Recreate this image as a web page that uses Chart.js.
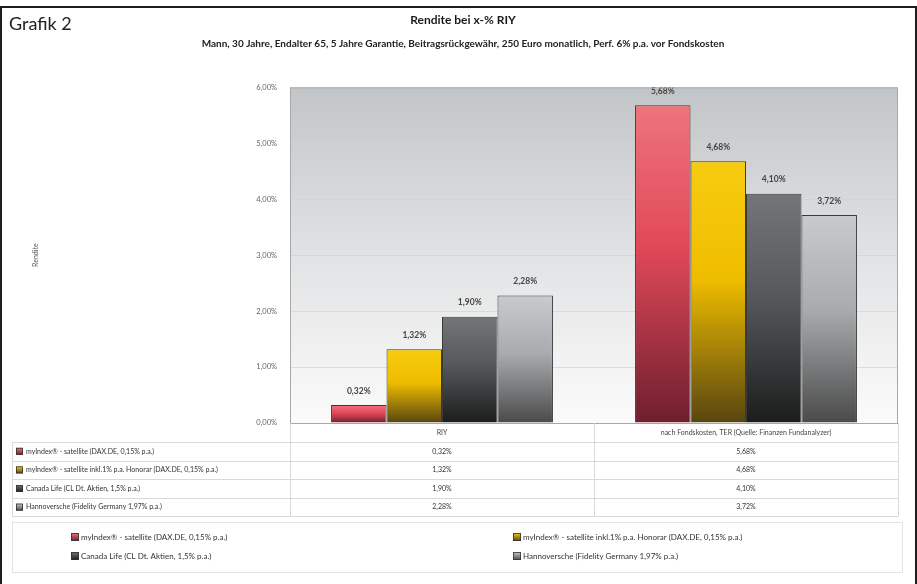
<!DOCTYPE html>
<html>
<head>
<meta charset="utf-8">
<script src="https://cdn.jsdelivr.net/npm/chart.js@4/dist/chart.umd.min.js"></script>
<style>
  html, body { margin: 0; padding: 0; background: #fff; }
  #wrap { position: relative; width: 917px; height: 584px; overflow: hidden; }
  #c { position: absolute; left: 0; top: 0; }
  #frame { position: absolute; left: 0; top: 6px; width: 913px; height: 620px; border: 2px solid #1e1e1e; pointer-events: none; }
  #grafik { position: absolute; left: 9px; top: 12px; font-family: Lato, "Open Sans", sans-serif; font-size: 18px; color: #222; }
</style>
</head>
<body>
<div id="wrap">
  <canvas id="c" width="917" height="584"></canvas>
  <div id="frame"></div>
  <div id="grafik">Grafik 2</div>
</div>
<script>
// ---- data ----
const categories = ['RIY', 'nach Fondskosten, TER (Quelle: Finanzen Fundanalyzer)'];
const seriesNames = [
  'myIndex\u00AE - satellite (DAX.DE, 0,15% p.a.)',
  'myIndex\u00AE - satellite inkl.1% p.a. Honorar (DAX.DE, 0,15% p.a.)',
  'Canada Life (CL Dt. Aktien, 1,5% p.a.)',
  'Hannoversche (Fidelity Germany 1,97% p.a.)'
];
const myIndex = [0.32, 5.68];
const myIndexHonorar = [1.32, 4.68];
const canadaLife = [1.90, 4.10];
const hannoversche = [2.28, 3.72];
const yTickValues = [0, 1, 2, 3, 4, 5, 6];
const titleText = 'Rendite bei x-% RIY';
const subtitleText = 'Mann, 30 Jahre, Endalter 65, 5 Jahre Garantie, Beitragsrückgewähr, 250 Euro monatlich, Perf. 6% p.a. vor Fondskosten';
const yTitle = 'Rendite';

// ---- styles ----
const FONT = 'Lato, "Open Sans", sans-serif';
const gradStops = [
  ['#ee747b', '#e04858', '#6e1f2e'],
  ['#f7cc10', '#efbd00', '#574510'],
  ['#727678', '#55595b', '#1c1c1c'],
  ['#c8cbcd', '#a9acae', '#4a4a4a']
];
const fmt = v => v.toFixed(2).replace('.', ',') + '%';

function barGradient(idx) {
  return function (c) {
    const s = gradStops[idx];
    if (c.type !== 'data' || !c.chart.chartArea) return s[1];
    const y = c.chart.scales.y;
    const top = y.getPixelForValue(c.raw);
    const bot = y.getPixelForValue(0);
    const g = c.chart.ctx.createLinearGradient(0, top, 0, bot);
    g.addColorStop(0, s[0]);
    g.addColorStop(0.45, s[1]);
    g.addColorStop(1, s[2]);
    return g;
  };
}

const seriesData = [myIndex, myIndexHonorar, canadaLife, hannoversche];

const bgPlugin = {
  id: 'bg',
  beforeDraw(chart) {
    const { ctx, chartArea: a } = chart;
    const g = ctx.createLinearGradient(0, a.top, 0, a.bottom);
    g.addColorStop(0, '#c2c5c7');
    g.addColorStop(0.55, '#e4e5e6');
    g.addColorStop(1, '#fbfbfb');
    ctx.save();
    ctx.fillStyle = g;
    ctx.fillRect(a.left, a.top, a.right - a.left, a.bottom - a.top);
    ctx.restore();
  },
  afterDraw(chart) {
    const { ctx, chartArea: a } = chart;
    ctx.save();
    ctx.strokeStyle = '#a8a8a8';
    ctx.lineWidth = 1;
    ctx.strokeRect(a.left + 0.5, a.top + 0.5, a.right - a.left - 1, a.bottom - a.top);
    ctx.restore();
  }
};

function drawKey(ctx, x, y, idx, size) {
  const s = gradStops[idx];
  const g = ctx.createLinearGradient(0, y - size / 2, 0, y + size / 2);
  g.addColorStop(0, s[0]);
  g.addColorStop(1, s[2]);
  ctx.fillStyle = g;
  ctx.fillRect(x, y - size / 2, size, size);
  ctx.strokeStyle = '#333';
  ctx.lineWidth = 0.8;
  ctx.strokeRect(x + 0.4, y - size / 2 + 0.4, size - 0.8, size - 0.8);
}

const labelPlugin = {
  id: 'labels',
  afterDatasetsDraw(chart) {
    const { ctx } = chart;
    ctx.save();
    ctx.font = 'bold 8.5px ' + FONT;
    ctx.fillStyle = '#444';
    ctx.textAlign = 'center';
    ctx.textBaseline = 'middle';
    chart.data.datasets.forEach((ds, i) => {
      const meta = chart.getDatasetMeta(i);
      meta.data.forEach((el, j) => {
        ctx.fillText(fmt(ds.data[j]), el.x, el.y - 14);
      });
    });
    ctx.restore();
  }
};

const tablePlugin = {
  id: 'table',
  afterDraw(chart) {
    const { ctx, chartArea: a } = chart;
    const xs = chart.scales.x;
    const left = 12, right = a.right;
    const rowH = 18.6;
    const headBottom = a.bottom + 19;
    const tableBottom = headBottom + rowH * 4;
    const mid = (xs.getPixelForValue(0) + xs.getPixelForValue(1)) / 2;
    ctx.save();
    ctx.strokeStyle = '#d9d9d9';
    ctx.lineWidth = 1;
    [a.left, mid, right].forEach(x => {
      ctx.beginPath();
      ctx.moveTo(Math.round(x) + 0.5, a.bottom);
      ctx.lineTo(Math.round(x) + 0.5, tableBottom);
      ctx.stroke();
    });
    for (let r = 0; r <= 4; r++) {
      const y = Math.round(headBottom + r * rowH) + 0.5;
      ctx.beginPath();
      ctx.moveTo(left, y);
      ctx.lineTo(right, y);
      ctx.stroke();
    }
    ctx.beginPath();
    ctx.moveTo(left + 0.5, headBottom);
    ctx.lineTo(left + 0.5, tableBottom);
    ctx.stroke();
    ctx.font = '7px ' + FONT;
    ctx.textBaseline = 'middle';
    seriesNames.forEach((name, i) => {
      const cy = headBottom + rowH * i + rowH / 2;
      drawKey(ctx, 16, cy, i, 7);
      ctx.fillStyle = '#333';
      ctx.textAlign = 'left';
      ctx.fillText(name, 26, cy);
      ctx.textAlign = 'center';
      seriesData[i].forEach((v, j) => {
        ctx.fillText(fmt(v), xs.getPixelForValue(j), cy);
      });
    });
    const lx = 12, ly = 522, lw = 890, lh = 50;
    ctx.strokeStyle = '#dedede';
    ctx.strokeRect(lx + 0.5, ly + 0.5, lw, lh);
    ctx.font = '8px ' + FONT;
    const pos = [[71, 537], [513, 537], [71, 556], [513, 556]];
    seriesNames.forEach((name, i) => {
      const [px, py] = pos[i];
      drawKey(ctx, px, py, i, 8);
      ctx.fillStyle = '#333';
      ctx.textAlign = 'left';
      ctx.fillText(name, px + 10, py);
    });
    ctx.restore();
  }
};

new Chart(document.getElementById('c'), {
  type: 'bar',
  data: {
    labels: categories,
    datasets: seriesNames.map((n, i) => ({
      label: n,
      data: seriesData[i],
      backgroundColor: barGradient(i),
      borderColor: '#3a3a3a',
      borderWidth: 1,
      categoryPercentage: 0.73,
      barPercentage: 1
    }))
  },
  options: {
    responsive: false,
    animation: false,
    devicePixelRatio: 1,
    layout: { padding: { top: 12, left: 28, right: 19, bottom: 0 } },
    plugins: {
      legend: { display: false },
      tooltip: { enabled: false },
      title: {
        display: true, text: titleText, color: '#1a1a1a',
        font: { family: FONT, size: 12, weight: 'bold' },
        padding: { top: 1, bottom: 10 }
      },
      subtitle: {
        display: true, text: subtitleText, color: '#222',
        font: { family: FONT, size: 10, weight: 'bold' },
        padding: { top: 0, bottom: 38 }
      }
    },
    scales: {
      x: {
        grid: { display: false, drawTicks: false },
        border: { display: false },
        ticks: { color: '#444', font: { family: FONT, size: 7 }, padding: 6, maxRotation: 0 },
        afterFit(s) { s.height = 161; }
      },
      y: {
        min: 0, max: 6,
        afterBuildTicks(s) { s.ticks = yTickValues.map(v => ({ value: v })); },
        grid: { color: 'rgba(210,210,210,0.7)', drawTicks: false },
        border: { display: false },
        ticks: { color: '#666', font: { family: FONT, size: 7.5 }, padding: 13, callback: v => fmt(v) },
        title: { display: true, text: yTitle, color: '#555', font: { family: FONT, size: 7 } },
        afterFit(s) { s.width = 262; }
      }
    }
  },
  plugins: [bgPlugin, labelPlugin, tablePlugin]
});
</script>
</body>
</html>
